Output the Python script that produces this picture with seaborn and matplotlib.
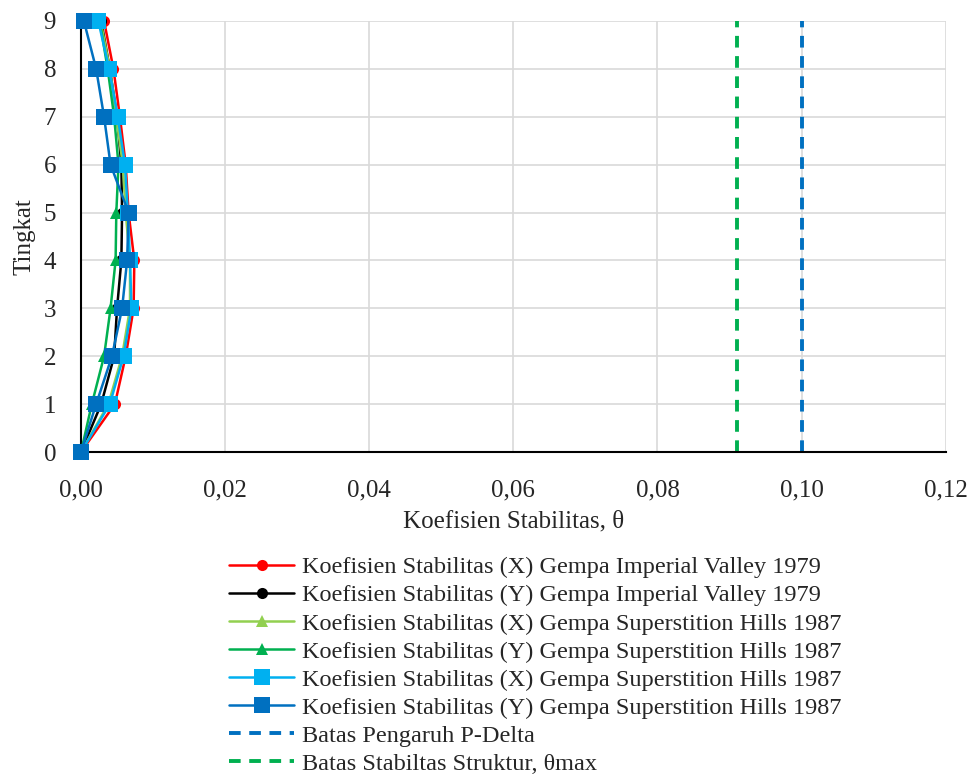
import matplotlib
matplotlib.use("Agg")
import matplotlib.pyplot as plt
import matplotlib.ticker as mticker
import pandas as pd
import seaborn as sns

# storey levels
tingkat = [0, 1, 2, 3, 4, 5, 6, 7, 8, 9]

# stability coefficient per storey
x_iv = [0, 0.0047, 0.0062, 0.0073, 0.0074, 0.0066, 0.0062, 0.0054, 0.0045, 0.0032]
y_iv = [0, 0.0028, 0.0046, 0.0050, 0.0056, 0.0057, 0.0056, 0.0050, 0.0040, 0.0028]
x_sh_a = [0, 0.0038, 0.0057, 0.0068, 0.0068, 0.0062, 0.0058, 0.0049, 0.0040, 0.0027]
y_sh_a = [0, 0.0015, 0.0032, 0.0041, 0.0048, 0.0049, 0.0052, 0.0046, 0.0037, 0.0026]
x_sh_b = [0, 0.0040, 0.0059, 0.0070, 0.0068, 0.0065, 0.0061, 0.0051, 0.0039, 0.0024]
y_sh_b = [0, 0.0021, 0.0043, 0.0057, 0.0064, 0.0066, 0.0041, 0.0032, 0.0021, 0.0004]

# limit lines
batas_level = [0, 9]
batas_pdelta = [0.10, 0.10]
batas_theta_max = [0.091, 0.091]

series = [
    ("Koefisien Stabilitas (X) Gempa Imperial Valley 1979", x_iv, "#FF0000", "o", 8),
    ("Koefisien Stabilitas (Y) Gempa Imperial Valley 1979", y_iv, "#000000", "o", 8),
    ("Koefisien Stabilitas (X) Gempa Superstition Hills 1987", x_sh_a, "#92D050", "^", 9),
    ("Koefisien Stabilitas (Y) Gempa Superstition Hills 1987", y_sh_a, "#00B050", "^", 9),
    ("Koefisien Stabilitas (X) Gempa Superstition Hills 1987", x_sh_b, "#00B0F0", "s", 11),
    ("Koefisien Stabilitas (Y) Gempa Superstition Hills 1987", y_sh_b, "#0070C0", "s", 11),
]

sns.set_style("white")
plt.rcParams["font.family"] = ["Liberation Serif", "DejaVu Serif"]

fig = plt.figure(figsize=(9.76, 7.76), dpi=100)
ax = fig.add_axes([0.083, 0.4175, 0.886, 0.5555])

handles = []
labels = []
for i, (lab, vals, col, mk, ms) in enumerate(series):
    df = pd.DataFrame({"theta": vals, "tingkat": tingkat})
    sns.lineplot(data=df, x="theta", y="tingkat", sort=False, estimator=None,
                 color=col, marker=mk, markersize=ms, markeredgewidth=0,
                 linewidth=1.8, ax=ax, zorder=3 + i, clip_on=False)
    handles.append(ax.lines[-1])
    labels.append(lab)

for lab, vals, col in [("Batas Pengaruh P-Delta", batas_pdelta, "#0070C0"),
                       ("Batas Stabiltas Struktur, \u03b8max", batas_theta_max, "#00B050")]:
    df = pd.DataFrame({"theta": vals, "tingkat": batas_level})
    sns.lineplot(data=df, x="theta", y="tingkat", sort=False, estimator=None,
                 color=col, linewidth=2.8, linestyle=(0, (3, 2.2)), ax=ax, zorder=2)
    handles.append(ax.lines[-1])
    labels.append(lab)

ax.set_xlim(0, 0.12)
ax.set_ylim(0, 9)
ax.set_xticks([0, 0.02, 0.04, 0.06, 0.08, 0.10, 0.12])
ax.set_yticks(tingkat)
ax.xaxis.set_major_formatter(mticker.FuncFormatter(lambda v, p: f"{v:.2f}".replace(".", ",")))
ax.grid(True, color="#D9D9D9", linewidth=1.2, zorder=0)
ax.set_axisbelow(True)
for s in ["top", "right"]:
    ax.spines[s].set_visible(False)
for s in ["left", "bottom"]:
    ax.spines[s].set_color("black")
    ax.spines[s].set_linewidth(1.5)
ax.tick_params(axis="x", length=0, labelsize=18, pad=20)
ax.tick_params(axis="y", length=0, labelsize=18, pad=18)
ax.set_xlabel("Koefisien Stabilitas, \u03b8", fontsize=18, labelpad=6)
ax.set_ylabel("Tingkat", fontsize=18, labelpad=6)

leg = ax.legend(handles, labels, loc="upper center", bbox_to_anchor=(0.525, -0.242),
                frameon=False, fontsize=17.5, handlelength=2.7, labelspacing=0.25,
                handletextpad=0.3, borderaxespad=0, borderpad=0)

fig.savefig("out.png", dpi=100)
